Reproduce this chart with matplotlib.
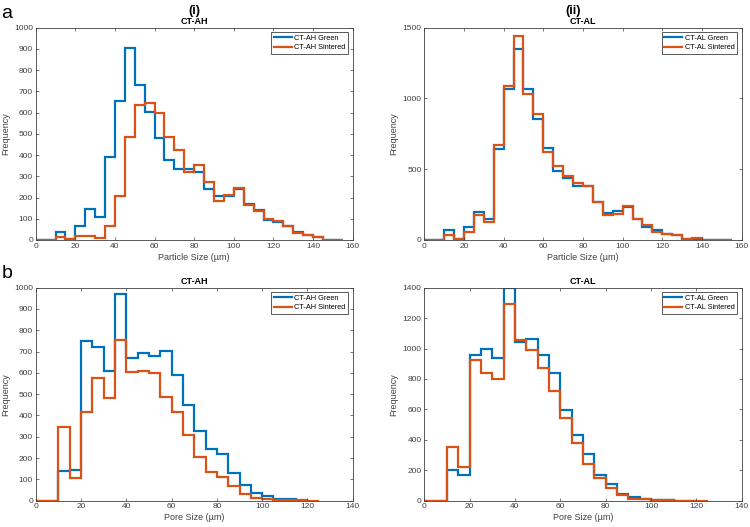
import numpy as np
import matplotlib
matplotlib.use("Agg")
import matplotlib.pyplot as plt
from matplotlib.lines import Line2D

plt.rcParams["font.family"] = ["Liberation Sans", "DejaVu Sans"]

# bin edges (5 um wide)
particle_edges = np.arange(0, 160, 5)
pore_edges = np.arange(0, 130, 5)

# (a)(i) CT-AH particle size
ah_particle_green = [0, 0, 40, 5, 65, 145, 110, 390, 655, 905, 730, 605, 480, 375, 335, 335,
                     320, 240, 205, 205, 240, 170, 140, 95, 85, 65, 40, 25, 15, 0, 0]
ah_particle_sint = [0, 0, 15, 5, 18, 20, 8, 65, 205, 485, 635, 645, 600, 485, 425, 320,
                    355, 275, 185, 210, 245, 165, 135, 100, 90, 65, 35, 25, 15, 2, 0]

# (a)(ii) CT-AL particle size
al_particle_green = [0, 0, 70, 10, 90, 195, 145, 645, 1070, 1350, 1070, 855, 650, 490, 440, 385,
                     380, 270, 190, 205, 235, 145, 90, 70, 45, 35, 10, 10, 3, 0, 0]
al_particle_sint = [0, 0, 35, 5, 60, 175, 125, 670, 1085, 1440, 1030, 890, 625, 520, 455, 400,
                    380, 265, 175, 185, 240, 150, 105, 60, 45, 35, 10, 15, 3, 0, 0]

# (b)(i) CT-AH pore size
ah_pore_green = [0, 0, 140, 145, 750, 720, 610, 970, 670, 695, 680, 705, 590, 450, 325, 245,
                 220, 130, 75, 35, 20, 10, 8, 0]
ah_pore_sint = [0, 0, 345, 105, 415, 575, 480, 755, 605, 610, 600, 485, 415, 310, 205, 135,
                110, 70, 30, 12, 10, 3, 2, 1, 0]

# (b)(ii) CT-AL pore size
al_pore_green = [0, 0, 200, 170, 960, 1000, 935, 1400, 1040, 1060, 960, 840, 595, 430, 305, 170,
                 110, 45, 25, 10, 5, 2, 1, 0]
al_pore_sint = [0, 0, 355, 220, 925, 840, 800, 1290, 1055, 990, 875, 720, 545, 380, 240, 150,
                85, 40, 10, 10, 3, 2, 1, 1, 0]

BLUE = "#0072BD"
ORANGE = "#D95319"
DARK = "#404040"


def draw_panel(ax, green, sint, edges, names, title, xlabel, xlim, xticks, ylim, yticks):
    ax.stairs(green, edges[:len(green) + 1], color=BLUE, lw=1.6)
    ax.stairs(sint, edges[:len(sint) + 1], color=ORANGE, lw=1.6)
    ax.set_xlim(*xlim)
    ax.set_ylim(*ylim)
    ax.set_xticks(xticks)
    ax.set_yticks(yticks)
    ax.tick_params(direction="in", top=True, right=True, labelsize=6,
                   colors=DARK, length=2.5, width=0.5, pad=2)
    for s in ax.spines.values():
        s.set_color(DARK)
        s.set_linewidth(0.6)
    ax.set_title(title, fontsize=6.5, fontweight="bold", pad=3, color="black")
    ax.set_xlabel(xlabel, fontsize=6.5, color=DARK, labelpad=2)
    ax.set_ylabel("Frequency", fontsize=6.5, color=DARK, labelpad=3)
    handles = [Line2D([], [], color=BLUE, lw=1.6), Line2D([], [], color=ORANGE, lw=1.6)]
    leg = ax.legend(handles, names, loc="upper right", fontsize=5.3, fancybox=False,
                    edgecolor=DARK, framealpha=1, borderpad=0.35, handlelength=2.4,
                    handletextpad=0.4, labelspacing=0.3, borderaxespad=0.6)
    leg.get_frame().set_linewidth(0.6)


fig = plt.figure(figsize=(7.5, 5.27), dpi=100)
ax1 = fig.add_axes([0.0476, 0.5446, 0.4227, 0.4028])
ax2 = fig.add_axes([0.5657, 0.5446, 0.4232, 0.4028])
ax3 = fig.add_axes([0.0476, 0.0499, 0.4227, 0.4042])
ax4 = fig.add_axes([0.5657, 0.0499, 0.4232, 0.4042])

draw_panel(ax1, ah_particle_green, ah_particle_sint, particle_edges,
           ["CT-AH Green", "CT-AH Sintered"], "CT-AH", "Particle Size (µm)",
           (0, 160), range(0, 161, 20), (0, 1000), range(0, 1001, 100))
draw_panel(ax2, al_particle_green, al_particle_sint, particle_edges,
           ["CT-AL Green", "CT-AL Sintered"], "CT-AL", "Particle Size (µm)",
           (0, 160), range(0, 161, 20), (0, 1500), range(0, 1501, 500))
draw_panel(ax3, ah_pore_green, ah_pore_sint, pore_edges,
           ["CT-AH Green", "CT-AH Sintered"], "CT-AH", "Pore Size (µm)",
           (0, 140), range(0, 141, 20), (0, 1000), range(0, 1001, 100))
draw_panel(ax4, al_pore_green, al_pore_sint, pore_edges,
           ["CT-AL Green", "CT-AL Sintered"], "CT-AL", "Pore Size (µm)",
           (0, 140), range(0, 141, 20), (0, 1400), range(0, 1401, 200))

fig.text(0.002, 0.966, "a", fontsize=14, va="baseline", ha="left")
fig.text(0.002, 0.473, "b", fontsize=14, va="baseline", ha="left")
fig.text(0.259, 0.973, "(i)", fontsize=9, fontweight="bold", va="baseline", ha="center")
fig.text(0.764, 0.973, "(ii)", fontsize=9, fontweight="bold", va="baseline", ha="center")

fig.savefig("out.png", dpi=100)
